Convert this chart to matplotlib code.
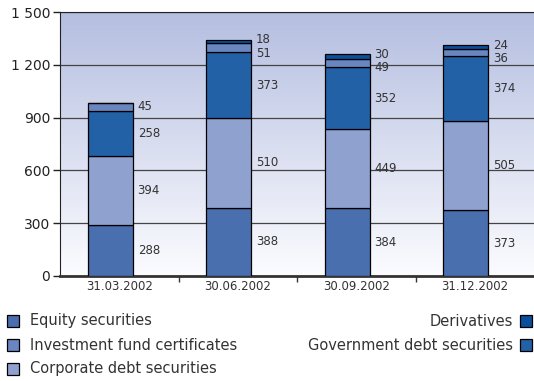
import matplotlib.pyplot as plt
import numpy as np
from matplotlib.patches import Rectangle
from matplotlib.ticker import FuncFormatter

dates = ['31.03.2002', '30.06.2002', '30.09.2002', '31.12.2002']
equity = [288, 388, 384, 373]
corporate = [394, 510, 449, 505]
government = [258, 373, 352, 374]
fund = [45, 51, 49, 36]
derivatives = [0, 18, 30, 24]

series = [
    ('Equity securities', equity, '#4a6fae'),
    ('Corporate debt securities', corporate, '#8fa2cf'),
    ('Government debt securities', government, '#2361a6'),
    ('Investment fund certificates', fund, '#6a86c1'),
    ('Derivatives', derivatives, '#0b4e9b'),
]

plt.rcParams['font.family'] = ['DejaVu Sans']

fig = plt.figure(figsize=(5.34, 3.81), dpi=100)
ax = fig.add_axes([0.1124, 0.2756, 0.8876, 0.6929])

# gradient background behind the bars
grad = np.linspace(0, 1, 256).reshape(-1, 1)
top = np.array([180, 190, 224]) / 255
bottom = np.array([252, 252, 255]) / 255
img = bottom + (top - bottom) * grad[:, :, None] * np.ones((1, 1, 3))
ax.imshow(img, extent=[-0.5, 3.5, 0, 1500], origin='lower', aspect='auto', zorder=0)

x = np.arange(len(dates)) - 0.075
width = 0.38
base = np.zeros(len(dates))
label_y = {}
for name, vals, col in series:
    vals = np.array(vals, dtype=float)
    ax.bar(x, vals, width, bottom=base, color=col, edgecolor='black', linewidth=0.9, zorder=3)
    label_y[name] = base + vals / 2
    base += vals

# the two thin top segments need their labels spread apart
deriv_y = label_y['Derivatives'] + 10
fund_y = label_y['Investment fund certificates'].copy()
has_deriv = np.array(derivatives) > 0
fund_y[has_deriv] = np.minimum(fund_y[has_deriv], deriv_y[has_deriv] - 75)
label_y['Derivatives'] = deriv_y
label_y['Investment fund certificates'] = fund_y

for name, vals, col in series:
    for i, v in enumerate(vals):
        if v == 0:
            continue
        ax.text(x[i] + width / 2 + 0.04, label_y[name][i], str(v), fontsize=8.5, color='#333333',
                va='center', ha='left', zorder=4)

ax.set_xlim(-0.5, 3.5)
ax.set_ylim(0, 1500)
ax.set_yticks(np.arange(0, 1501, 300))
ax.yaxis.set_major_formatter(FuncFormatter(lambda v, p: f'{int(v):,}'.replace(',', ' ')))
ax.grid(axis='y', color='#444444', linewidth=0.9, zorder=1)
ax.set_axisbelow(True)

ax.set_xticks(np.arange(len(dates)))
ax.set_xticklabels(dates)
ax.set_xticks([0.5, 1.5, 2.5], minor=True)
ax.tick_params(axis='x', which='major', length=0, labelsize=8.5, colors='#333333', pad=3)
ax.tick_params(axis='x', which='minor', length=4, width=1, color='#333333')
ax.tick_params(axis='y', length=5, width=1, labelsize=10, colors='#222222', pad=2)

ax.spines['right'].set_visible(False)
ax.spines['top'].set_color('#222222')
ax.spines['left'].set_color('#222222')
ax.spines['bottom'].set_color('#333333')
ax.spines['bottom'].set_linewidth(2)

W, H = 534, 381

def legend_item(label, px, py, right=False):
    sq = 12
    if right:
        fig.text((px - 7) / W, 1 - py / H, label, ha='right', va='center', fontsize=10.5, color='#333333')
    else:
        fig.text((px + sq + 11) / W, 1 - py / H, label, ha='left', va='center', fontsize=10.5, color='#333333')
    col = [c for n, v, c in series if n == label][0]
    fig.patches.append(Rectangle((px / W, 1 - (py + sq / 2) / H), sq / W, sq / H,
                                 transform=fig.transFigure, facecolor=col, edgecolor='black',
                                 linewidth=0.9))

legend_item('Equity securities', 7, 321)
legend_item('Investment fund certificates', 7, 345)
legend_item('Corporate debt securities', 7, 369)
legend_item('Derivatives', 520, 321, right=True)
legend_item('Government debt securities', 520, 345, right=True)

fig.savefig('out.png', dpi=100)
